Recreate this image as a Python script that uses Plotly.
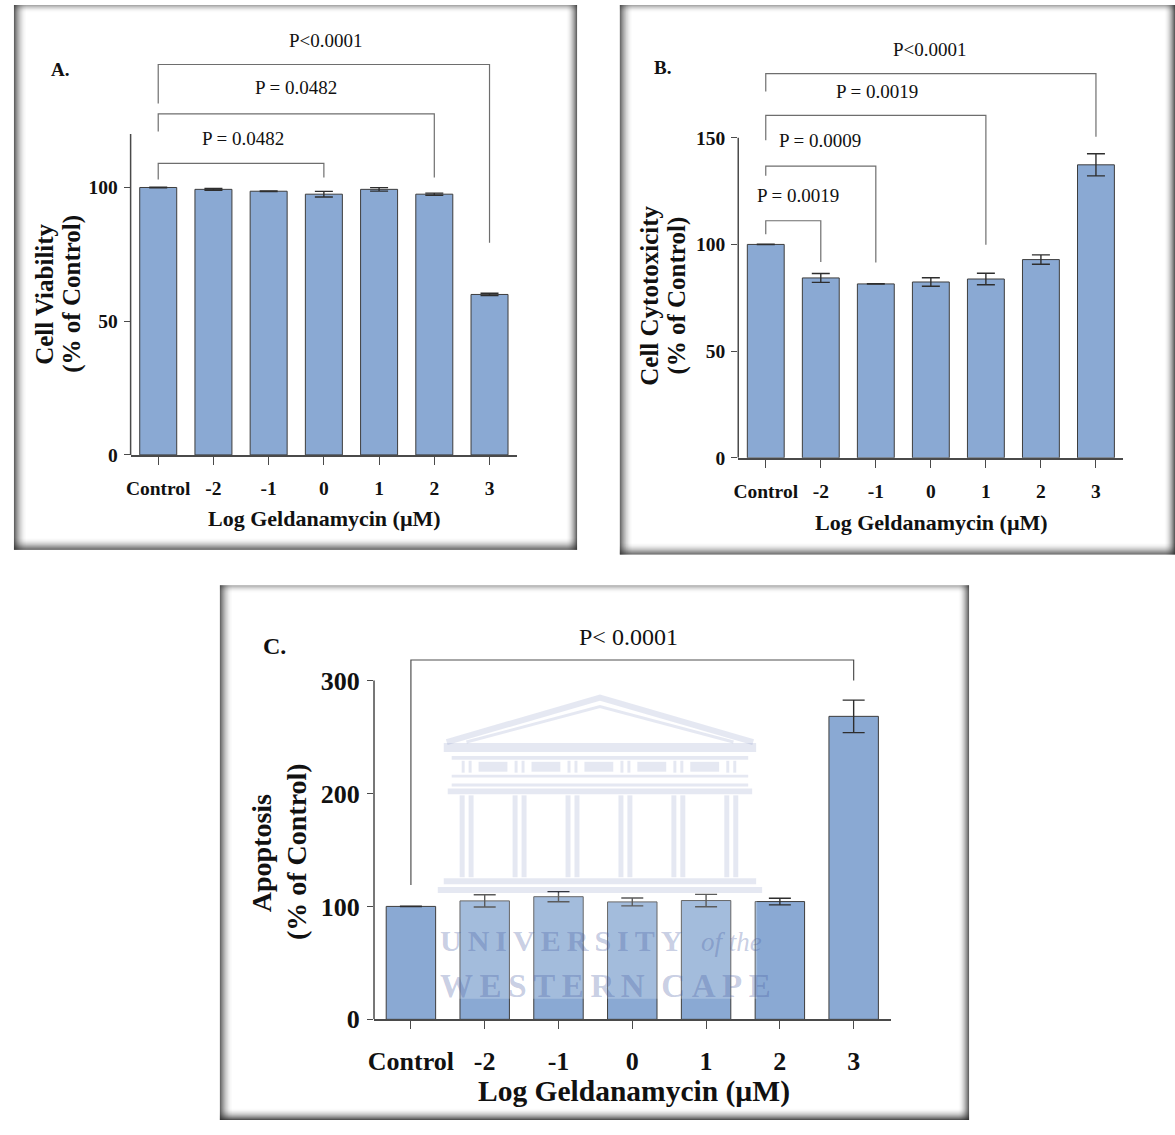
import plotly.graph_objects as go

# ---------------------------------------------------------------- data
categories = ["Control", "-2", "-1", "0", "1", "2", "3"]

viability_mean = [100.0, 99.3, 98.6, 97.5, 99.3, 97.5, 60.0]
viability_sem = [0.15, 0.35, 0.1, 1.05, 0.65, 0.4, 0.45]

cytotox_mean = [100.0, 84.3, 81.5, 82.4, 83.8, 92.9, 137.3]
cytotox_sem = [0.1, 2.1, 0.1, 2.0, 2.7, 2.2, 5.2]

apoptosis_mean = [100.0, 104.9, 108.6, 104.0, 105.2, 104.3, 268.3]
apoptosis_sem = [0.2, 5.4, 4.5, 3.5, 5.5, 2.9, 14.4]

yticks_a = [0, 50, 100]
yticks_b = [0, 50, 100, 150]
yticks_c = [0, 100, 200, 300]

# significance brackets: (left bar, right bar, label)
pairs_a = [(0, 3, "P = 0.0482"), (0, 5, "P = 0.0482"), (0, 6, "P<0.0001")]
pairs_b = [(0, 1, "P = 0.0019"), (0, 2, "P = 0.0009"), (0, 4, "P = 0.0019"), (0, 6, "P<0.0001")]
pairs_c = [(0, 6, "P< 0.0001")]

# bracket geometry in axis units: (bar height, left leg end, right leg end, label x, label y)
geom_a = [(109.0, 103.0, 103.7, 1.54, 118.2),
          (127.5, 120.9, 103.7, 2.49, 137.4),
          (146.0, 131.4, 79.3, 3.03, 154.8)]
geom_b = [(111.1, 104.8, 91.8, 0.58, 123.0),
          (136.7, 132.2, 91.5, 0.99, 148.8),
          (160.5, 148.8, 99.8, 2.02, 171.6),
          (180.0, 171.6, 150.5, 2.99, 191.2)]
geom_c = [(318.2, 119.0, 300.0, 2.95, 338.9)]

# ---------------------------------------------------------------- styling
W, H = 1175, 1135
BAR_FILL = "#8aa9d3"
BAR_EDGE = "#3d3d3d"
AXIS = "#4a4a4a"
BRACKET = "#6e6e6e"
INK = "#111111"
SERIF = "Liberation Serif"


def X(px):
    return px / W


def Y(py):
    return 1 - py / H


fig = go.Figure()
shapes = []
annotations = []

panels = [
    dict(xa="x", ya="y", dx=(125.25, 513.75), dy=(461.0, 27.4), yrange=[0, 160], ytop=120,
         ticks=yticks_a, mean=viability_mean, sem=viability_sem, cap=9, fs=19.5, stand=7,
         pairs=pairs_a, geom=geom_a, pfs=19, bcol=BRACKET),
    dict(xa="x2", ya="y2", dx=(736.0, 1123.2), dy=(464.0, 31.4), yrange=[0, 200], ytop=150,
         ticks=yticks_b, mean=cytotox_mean, sem=cytotox_sem, cap=9, fs=19.5, stand=7,
         pairs=pairs_b, geom=geom_b, pfs=19, bcol=BRACKET),
    dict(xa="x3", ya="y3", dx=(369.9, 889.1), dy=(1033.0, 621.0), yrange=[0, 360], ytop=300,
         ticks=yticks_c, mean=apoptosis_mean, sem=apoptosis_sem, cap=11, fs=26, stand=10,
         pairs=pairs_c, geom=geom_c, pfs=24, bcol="#505050"),
]

layout_axes = {}
for i, p in enumerate(panels):
    fig.add_trace(go.Bar(
        x=categories, y=p["mean"], width=0.67,
        marker=dict(color=BAR_FILL, line=dict(color=BAR_EDGE, width=1)),
        error_y=dict(type="data", array=p["sem"], visible=True, color="#2e2e2e",
                     thickness=1.4, width=p["cap"]),
        xaxis=p["xa"], yaxis=p["ya"], hoverinfo="skip",
    ))
    suffix = "" if i == 0 else str(i + 1)
    tickfont = dict(family=SERIF, size=p["fs"], color=INK, weight="bold")
    layout_axes["xaxis" + suffix] = dict(
        domain=[X(p["dx"][0]), X(p["dx"][1])], anchor=p["ya"], type="category",
        range=[-0.5, 6.5], showline=True, linecolor=AXIS, linewidth=1.5,
        ticks="outside", ticklen=8, tickwidth=1.3, tickcolor=AXIS,
        showgrid=False, zeroline=False, tickfont=tickfont, fixedrange=True,
        ticklabelstandoff=p["stand"],
    )
    layout_axes["yaxis" + suffix] = dict(
        domain=[Y(p["dy"][0]), Y(p["dy"][1])], anchor=p["xa"], range=p["yrange"],
        tickvals=p["ticks"], showline=False, ticks="outside", ticklen=6,
        tickwidth=1.3, tickcolor=AXIS, showgrid=False, zeroline=False,
        tickfont=tickfont, ticklabelstandoff=2, fixedrange=True,
    )
    # y axis spine stops at the top tick
    shapes.append(dict(type="line", xref=p["xa"] + " domain", yref=p["ya"],
                       x0=0, x1=0, y0=0, y1=p["ytop"],
                       line=dict(color=AXIS, width=1.5)))
    # significance brackets
    for (l, r, label), (hb, ll, rl, tx, ty) in zip(p["pairs"], p["geom"]):
        shapes.append(dict(type="path", xref=p["xa"], yref=p["ya"],
                           path=f"M {l},{ll} L {l},{hb} L {r},{hb} L {r},{rl}",
                           line=dict(color=p["bcol"], width=1.2)))
        annotations.append(dict(xref=p["xa"], yref=p["ya"], x=tx, y=ty, text=label,
                                showarrow=False, xanchor="center", yanchor="middle",
                                font=dict(family=SERIF, size=p["pfs"], color=INK)))


# ---------------------------------------------------------------- panel frames
def frame(x0, y0, x1, y1):
    out = []
    sides = [("left", 13, 0.75), ("right", 11, 0.75), ("bottom", 12, 0.8), ("top", 8, 0.4)]
    for side, n, amax in sides:
        for k in range(n):
            a = amax * (1 - k / n) ** 2.0
            if side == "left":
                r = (x0 + k, y0, x0 + k + 1, y1)
            elif side == "right":
                r = (x1 - k - 1, y0, x1 - k, y1)
            elif side == "bottom":
                r = (x0, y1 - k - 1, x1, y1 - k)
            else:
                r = (x0, y0 + k, x1, y0 + k + 1)
            out.append(dict(type="rect", xref="paper", yref="paper", layer="below",
                            x0=X(r[0]), x1=X(r[2]), y0=Y(r[3]), y1=Y(r[1]),
                            fillcolor=f"rgba(40,40,40,{a:.3f})", line=dict(width=0)))
    return out


shapes += frame(8, 5, 574, 557)
shapes += frame(617, 5, 1175, 562)
shapes += frame(215, 593, 968, 1135)

# ---------------------------------------------------------------- watermark in panel C
WM = "rgba(80,100,170,0.15)"


def box(x0, y0, x1, y1, color=WM, layer="above"):
    return dict(type="rect", xref="paper", yref="paper", layer=layer,
                x0=X(x0), x1=X(x1), y0=Y(y1), y1=Y(y0), fillcolor=color, line=dict(width=0))


shapes.append(box(437, 905, 755, 1012, color="rgba(255,255,255,0.22)"))
# pediment
for (dy, wdt) in [(0, 6), (9, 3)]:
    shapes.append(dict(type="path", xref="paper", yref="paper", layer="above",
                       path=(f"M {X(443 + dy * 2.2)},{Y(752)} L {X(597)},{Y(707 + dy)} "
                             f"L {X(751 - dy * 2.2)},{Y(752)}"),
                       line=dict(color=WM, width=wdt)))
shapes.append(box(440, 753, 754, 762))
shapes.append(box(448, 766, 746, 770))
# frieze blocks
for k in range(6):
    cx = 463 + k * 53.2
    shapes.append(box(cx - 5, 771, cx - 2, 783))
    shapes.append(box(cx + 2, 771, cx + 5, 783))
    if k < 5:
        shapes.append(box(cx + 12, 772, cx + 41, 782))
shapes.append(box(448, 785, 746, 788))
shapes.append(box(448, 794, 746, 797))
shapes.append(box(444, 799, 750, 805))
# columns
for k in range(6):
    cx = 463 + k * 53.2
    shapes.append(box(cx - 7, 806, cx - 2, 889))
    shapes.append(box(cx + 2, 806, cx + 7, 889))
shapes.append(box(440, 890, 754, 896))
shapes.append(box(434, 899, 760, 905))

WM_TEXT = "rgba(70,90,160,0.30)"
sp = "\u2009"
annotations += [
    dict(xref="paper", yref="paper", x=X(434), y=Y(953), xanchor="left", yanchor="middle",
         text=sp.join("UNIVERSITY"), showarrow=False,
         font=dict(family=SERIF, size=30, color=WM_TEXT, weight="bold")),
    dict(xref="paper", yref="paper", x=X(697), y=Y(955), xanchor="left", yanchor="middle",
         text="of the", showarrow=False,
         font=dict(family=SERIF, size=27, color=WM_TEXT, style="italic")),
    dict(xref="paper", yref="paper", x=X(434), y=Y(999), xanchor="left", yanchor="middle",
         text=sp.join("WESTERN") + "\u2002" + sp.join("CAPE"),
         showarrow=False,
         font=dict(family=SERIF, size=33, color=WM_TEXT, weight="bold")),
]


# ---------------------------------------------------------------- titles and panel letters
def label(px, py, text, size, angle=0, bold=True):
    return dict(xref="paper", yref="paper", x=X(px), y=Y(py), text=text, showarrow=False,
                xanchor="center", yanchor="middle", textangle=angle,
                font=dict(family=SERIF, size=size, color=INK,
                          weight="bold" if bold else "normal"))


annotations += [
    label(54, 70, "A.", 19),
    label(660, 68, "B.", 19),
    label(270, 655, "C.", 24),
    label(38, 298, "Cell Viability", 25, -90),
    label(66, 298, "(% of Control)", 25, -90),
    label(646, 300, "Cell Cytotoxicity", 25, -90),
    label(674, 300, "(% of Control)", 25, -90),
    label(257, 865, "Apoptosis", 28, -90),
    label(292, 863, "(% of Control)", 28, -90),
    label(320, 525, "Log Geldanamycin (µM)", 22),
    label(930, 529, "Log Geldanamycin (µM)", 22),
    label(631, 1106, "Log Geldanamycin (µM)", 29.5),
]

fig.update_layout(
    width=W, height=H, margin=dict(l=0, r=0, t=0, b=0),
    paper_bgcolor="white", plot_bgcolor="rgba(0,0,0,0)",
    showlegend=False, shapes=shapes, annotations=annotations,
    **layout_axes,
)

fig.write_html("out.html")
